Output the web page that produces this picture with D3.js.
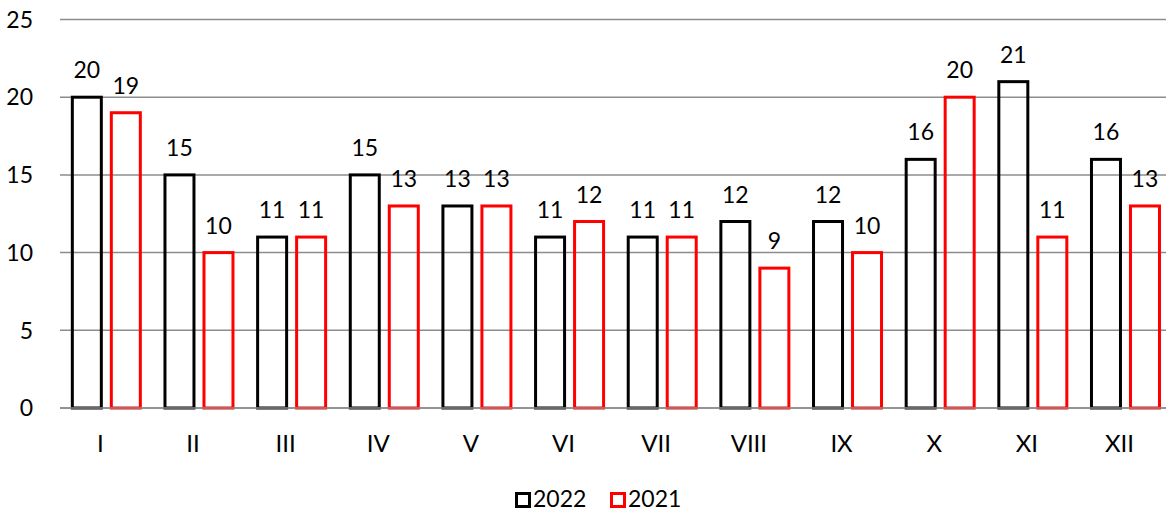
<!DOCTYPE html>
<html>
<head>
<meta charset="utf-8">
<script src="https://cdn.jsdelivr.net/npm/d3@7"></script>
<style>
  html, body { margin: 0; padding: 0; background: #fff; }
  svg { display: block; font-family: Lato, "Open Sans", sans-serif; }
</style>
</head>
<body>
<svg id="chart" width="1166" height="512"></svg>
<script>
const categories = ["I","II","III","IV","V","VI","VII","VIII","IX","X","XI","XII"];
const seriesNames = ["2022","2021"];
const values2022 = [20,15,11,15,13,11,11,12,12,16,21,16];
const values2021 = [19,10,11,13,13,12,11,9,10,20,11,13];
const yTicks = [0,5,10,15,20,25];
const seriesColors = ["#000000","#ff0000"];

(function () {
const svg = d3.select("#chart");
const W = 1166, H = 512;
const mLeft = 60, mRight = 1171.8, mTop = 19.5, mBottom = 408;

const x = d3.scaleBand().domain(categories).range([mLeft, mRight]).padding(0);
const y = d3.scaleLinear().domain([0, 25]).range([mBottom, mTop]);

const step = x.bandwidth();
const x1 = d3.scaleBand().domain(seriesNames)
  .range([step/2 - 35.5, step/2 + 35.5]).paddingInner(0.1795).paddingOuter(0);

// gridlines
svg.append("g").selectAll("line").data(yTicks).join("line")
  .attr("x1", mLeft).attr("x2", W)
  .attr("y1", d => y(d)).attr("y2", d => y(d))
  .attr("stroke", "#8c8c8c").attr("stroke-width", 1.5);

// y tick labels
svg.append("g").selectAll("text").data(yTicks).join("text")
  .attr("x", 33).attr("y", d => y(d)).attr("dy", "0.36em")
  .attr("text-anchor", "end").attr("font-size", 23).attr("fill", "#000")
  .text(d => d);

const data = categories.map((c, i) => ({cat: c, vals: [values2022[i], values2021[i]]}));

const groups = svg.append("g").selectAll("g").data(data).join("g")
  .attr("transform", d => `translate(${x(d.cat)},0)`);

const sw = 3;
groups.selectAll("rect").data(d => d.vals.map((v, j) => ({s: seriesNames[j], v, j}))).join("rect")
  .attr("x", d => x1(d.s) + sw/2)
  .attr("width", x1.bandwidth() - sw)
  .attr("y", d => y(d.v))
  .attr("height", d => y(0) - y(d.v))
  .attr("fill", "none")
  .attr("stroke", d => seriesColors[d.j])
  .attr("stroke-width", sw);

groups.selectAll("text").data(d => d.vals.map((v, j) => ({s: seriesNames[j], v, j}))).join("text")
  .attr("x", d => x1(d.s) + x1.bandwidth()/2)
  .attr("y", d => y(d.v) - 19)
  .attr("text-anchor", "middle").attr("font-size", 23).attr("fill", "#000")
  .text(d => d.v);

// baseline over bars
svg.append("line").attr("x1", mLeft).attr("x2", W)
  .attr("y1", y(0)).attr("y2", y(0))
  .attr("stroke", "#8c8c8c").attr("stroke-width", 1.5);

// x axis labels
svg.append("g").selectAll("text").data(categories).join("text")
  .attr("x", d => x(d) + step/2 - 6).attr("y", 452)
  .attr("text-anchor", "middle").attr("font-size", 24).attr("fill", "#000")
  .text(d => d);

// legend
const legend = svg.append("g");
const legendItems = [{name: seriesNames[0], color: seriesColors[0], x: 515}, {name: seriesNames[1], color: seriesColors[1], x: 610}];
legendItems.forEach(it => {
  legend.append("rect").attr("x", it.x + 1.5).attr("y", 493.5).attr("width", 13).attr("height", 13)
    .attr("fill", "none").attr("stroke", it.color).attr("stroke-width", 3);
  legend.append("text").attr("x", it.x + 18).attr("y", 507)
    .attr("font-size", 23).attr("fill", "#000").text(it.name);
});
})();
</script>
</body>
</html>
